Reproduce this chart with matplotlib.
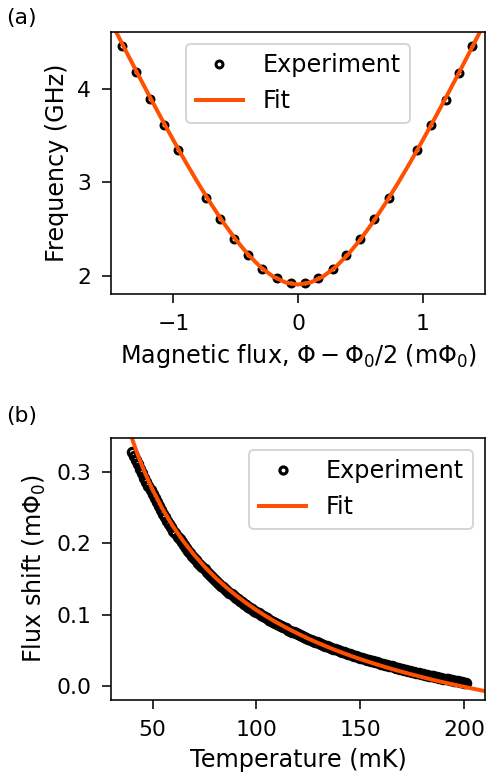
import numpy as np
import matplotlib
matplotlib.use("Agg")
import matplotlib.pyplot as plt

# (a) spectroscopy vs flux
flux_exp = [-1.416, -1.299, -1.189, -1.074, -0.964, -0.739, -0.624, -0.514,
            -0.399, -0.287, -0.171, -0.059, 0.054, 0.163, 0.281, 0.388,
            0.500, 0.613, 0.731, 0.958, 1.068, 1.183, 1.293, 1.398]
freq_exp = [4.453, 4.175, 3.890, 3.611, 3.346, 2.835, 2.607, 2.392,
            2.217, 2.074, 1.978, 1.925, 1.925, 1.978, 2.074, 2.217,
            2.392, 2.604, 2.835, 3.339, 3.611, 3.882, 4.168, 4.453]

flux_fit = [-1.5, -1.4, -1.3, -1.2, -1.1, -1.0, -0.9, -0.8, -0.7, -0.6, -0.5,
            -0.4, -0.3, -0.2, -0.1, 0.0, 0.1, 0.2, 0.3, 0.4, 0.5, 0.6, 0.7,
            0.8, 0.9, 1.0, 1.1, 1.2, 1.3, 1.4, 1.5]
freq_fit = [4.713, 4.452, 4.194, 3.940, 3.691, 3.448, 3.212, 2.986, 2.771,
            2.570, 2.386, 2.225, 2.091, 1.990, 1.927, 1.905, 1.927, 1.990,
            2.091, 2.225, 2.386, 2.570, 2.771, 2.986, 3.212, 3.448, 3.691,
            3.940, 4.194, 4.452, 4.713]

# (b) flux shift vs temperature, one reading per mK from 40 to 201
temp_exp = list(range(40, 202))
shift_exp = [
    0.3281, 0.3225, 0.3173, 0.3113, 0.3047, 0.2984, 0.2923, 0.2864, 0.2804, 0.2745,  # 40-49
    0.2689, 0.2636, 0.2578, 0.2523, 0.2467, 0.2413, 0.2368, 0.2319, 0.2271, 0.2224,  # 50-59
    0.2177, 0.2139, 0.2096, 0.2055, 0.2014, 0.1973, 0.1935, 0.1898, 0.1861, 0.1824,  # 60-69
    0.1788, 0.1764, 0.1731, 0.1698, 0.1665, 0.1633, 0.1603, 0.1574, 0.1544, 0.1515,  # 70-79
    0.1486, 0.1460, 0.1433, 0.1408, 0.1381, 0.1356, 0.1332, 0.1309, 0.1285, 0.1262,  # 80-89
    0.1238, 0.1217, 0.1195, 0.1174, 0.1152, 0.1131, 0.1111, 0.1092, 0.1072, 0.1053,  # 90-99
    0.1033, 0.1015, 0.0998, 0.0980, 0.0963, 0.0945, 0.0929, 0.0913, 0.0896, 0.0880,  # 100-109
    0.0864, 0.0849, 0.0834, 0.0820, 0.0805, 0.0790, 0.0776, 0.0762, 0.0749, 0.0735,  # 110-119
    0.0721, 0.0708, 0.0695, 0.0682, 0.0669, 0.0656, 0.0644, 0.0632, 0.0621, 0.0609,  # 120-129
    0.0597, 0.0586, 0.0575, 0.0563, 0.0552, 0.0541, 0.0531, 0.0520, 0.0510, 0.0499,  # 130-139
    0.0489, 0.0479, 0.0469, 0.0460, 0.0450, 0.0440, 0.0431, 0.0422, 0.0412, 0.0403,  # 140-149
    0.0394, 0.0385, 0.0377, 0.0368, 0.0360, 0.0351, 0.0343, 0.0335, 0.0327, 0.0319,  # 150-159
    0.0311, 0.0303, 0.0295, 0.0287, 0.0279, 0.0271, 0.0264, 0.0256, 0.0248, 0.0241,  # 160-169
    0.0234, 0.0226, 0.0219, 0.0213, 0.0206, 0.0198, 0.0191, 0.0185, 0.0178, 0.0171,  # 170-179
    0.0164, 0.0158, 0.0152, 0.0144, 0.0138, 0.0132, 0.0126, 0.0119, 0.0114, 0.0108,  # 180-189
    0.0102, 0.0095, 0.0090, 0.0084, 0.0079, 0.0072, 0.0067, 0.0062, 0.0056, 0.0050,  # 190-199
    0.0045, 0.0039,                                                                  # 200-201
]

temp_fit = [38, 40, 42, 44, 46, 48, 50, 55, 60, 65, 70, 75, 80, 85, 90, 95,
            100, 105, 110, 115, 120, 125, 130, 135, 140, 145, 150, 155, 160,
            165, 170, 175, 180, 185, 190, 195, 200, 205, 210]
shift_fit = [0.3664, 0.3481, 0.3313, 0.3157, 0.3013, 0.2879, 0.2754, 0.2473,
             0.2232, 0.2023, 0.1838, 0.1673, 0.1526, 0.1393, 0.1273, 0.1163,
             0.1063, 0.0970, 0.0884, 0.0805, 0.0731, 0.0661, 0.0597, 0.0536,
             0.0479, 0.0425, 0.0374, 0.0326, 0.0281, 0.0237, 0.0196, 0.0157,
             0.0119, 0.0083, 0.0049, 0.0016, -0.0015, -0.0046, -0.0075]

fit_color = "#ff4f00"


def main():
    dpi = 143
    fig = plt.figure(figsize=(487 / dpi, 781 / dpi), dpi=dpi)
    ax1 = fig.add_axes([0.228, 0.6236, 0.768, 0.3355])
    ax2 = fig.add_axes([0.228, 0.1037, 0.768, 0.3355])

    ax1.plot(flux_exp, freq_exp, 'o', mfc='none', mec='k', ms=3.5, mew=1.5,
             label='Experiment')
    ax1.plot(flux_fit, freq_fit, '-', color=fit_color, lw=2, label='Fit')
    ax1.set_xlim(-1.5, 1.5)
    ax1.set_ylim(1.804, 4.606)
    ax1.set_xticks([-1, 0, 1])
    ax1.set_yticks([2, 3, 4])
    ax1.set_xlabel(r'Magnetic flux, $\Phi - \Phi_0/2$ (m$\Phi_0$)', fontsize=12)
    ax1.set_ylabel('Frequency (GHz)', fontsize=12)
    ax1.legend(loc='upper center', fontsize=12)

    ax2.plot(temp_exp, shift_exp, 'o', mfc='none', mec='k', ms=4.2, mew=1.6,
             label='Experiment')
    ax2.plot(temp_fit, shift_fit, '-', color=fit_color, lw=2, label='Fit')
    ax2.set_xlim(30, 210)
    ax2.set_ylim(-0.02, 0.348)
    ax2.set_xticks([50, 100, 150, 200])
    ax2.set_yticks([0.0, 0.1, 0.2, 0.3])
    ax2.set_xlabel('Temperature (mK)', fontsize=12)
    ax2.set_ylabel(r'Flux shift (m$\Phi_0$)', fontsize=12)
    ax2.legend(loc='upper right', fontsize=12, markerscale=0.85)

    for ax in (ax1, ax2):
        ax.tick_params(labelsize=11, length=4.5, pad=5.5)

    fig.text(0.012, 1 - 18 / 781, '(a)', va='center', fontsize=11)
    fig.text(0.012, 1 - 416 / 781, '(b)', va='center', fontsize=11)

    fig.savefig('out.png', dpi=dpi)


if __name__ == '__main__':
    main()
